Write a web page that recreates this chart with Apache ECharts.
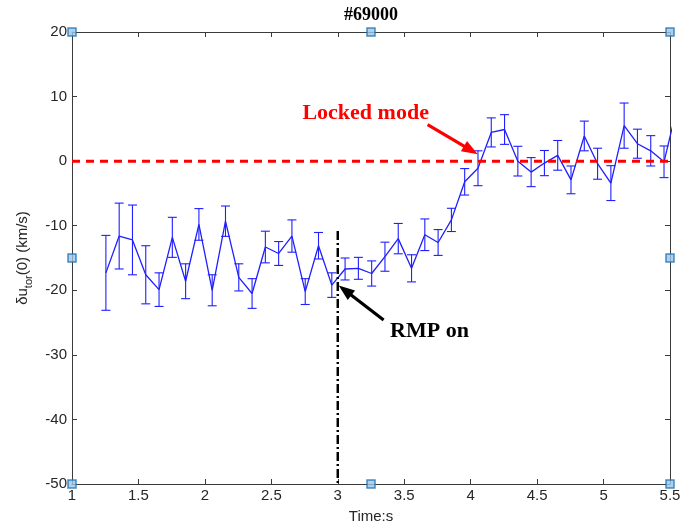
<!DOCTYPE html>
<html>
<head>
<meta charset="utf-8">
<script src="https://cdn.jsdelivr.net/npm/echarts@6/dist/echarts.min.js"></script>
<style>
html,body{margin:0;padding:0;background:#fff;}
#chart{width:691px;height:529px;}
</style>
</head>
<body>
<div id="chart"></div>
<script>
// ---- data ----
const times = [1.255,1.355,1.455,1.555,1.655,1.755,1.855,1.955,2.055,2.155,
               2.255,2.355,2.455,2.555,2.655,2.755,2.855,2.955,3.055,3.155,
               3.255,3.355,3.455,3.555,3.655,3.755,3.855,3.955,4.055,4.155,
               4.255,4.355,4.455,4.555,4.655,4.755,4.855,4.955,5.055,5.155,
               5.255,5.355,5.455,5.555];
const values = [-17.3,-11.6,-12.2,-17.6,-19.9,-11.8,-18.6,-9.8,-20.0,-9.3,
                -18.0,-20.5,-13.3,-14.3,-11.6,-20.2,-13.1,-19.2,-16.7,-16.6,
                -17.4,-14.8,-12.0,-16.6,-11.4,-12.6,-9.1,-3.2,-1.1,4.45,
                4.9,0.0,-1.7,-0.3,0.9,-2.9,3.9,-0.4,-3.4,5.5,
                2.7,1.6,-0.1,8.5];
const errors = [5.8,5.1,5.4,4.5,2.6,3.1,2.7,2.45,2.4,2.35,
                2.1,2.3,2.45,1.85,2.5,2.0,2.05,1.9,1.7,1.7,
                1.95,2.25,2.35,2.1,2.45,2.0,1.8,2.05,2.7,2.25,
                2.3,2.3,2.25,1.95,2.3,2.15,2.3,2.4,2.7,3.5,
                2.25,2.35,2.45,2.5];
const lockedLevel = [[1,0],[5.5,0]];
const rmpLine = [[3,-10.8],[3,-50]];
const handleX = [1,3.25,5.5,1,5.5,1,3.25,5.5];
const handleY = [20,20,20,-15,-15,-50,-50,-50];
const titleText = '#69000';
const xName = 'Time:s';
// annotations (data coordinates)
const lockedLabel = {text:'Locked mode', at:[3.21,7.35], from:[3.676,5.66], to:[4.053,1.05]};
const rmpLabel = {text:'RMP on', at:[3.69,-26.3], from:[3.345,-24.6], to:[3.007,-19.25]};

const mainData = times.map((t,i)=>[t,values[i]]);
const errData = times.map((t,i)=>[t,values[i],errors[i]]);
const handles = handleX.map((x,i)=>[x,handleY[i]]);

const axisColor = '#3a3a3a';
const labelColor = '#262626';
const sans = 'Liberation Sans, Arial, sans-serif';
const serif = 'Liberation Serif, Times New Roman, serif';

const chart = echarts.init(document.getElementById('chart'), null, {renderer:'canvas'});
const grid = {left:72, right:21, top:32, bottom:42};

function axisBase(pos){
  return {
    axisLine:{show:true, onZero:false, lineStyle:{color:axisColor, width:1}},
    axisTick:{show:true, inside:true, length:5, lineStyle:{color:axisColor}},
    splitLine:{show:false}, position:pos
  };
}

chart.setOption({
  animation:false,
  backgroundColor:'#fff',
  grid: grid,
  xAxis: [Object.assign(axisBase('bottom'), {
    type:'value', min:1, max:5.5, interval:0.5,
    axisLabel:{color:labelColor, fontFamily:sans, fontSize:15, margin:4,
      formatter:v=>String(Math.round(v*10)/10)},
    name:xName, nameLocation:'middle', nameGap:25,
    nameTextStyle:{color:labelColor, fontFamily:sans, fontSize:15}
  }), Object.assign(axisBase('top'), {
    type:'value', min:1, max:5.5, interval:0.5,
    axisLabel:{show:false}
  })],
  yAxis: [Object.assign(axisBase('left'), {
    type:'value', min:-50, max:20, interval:10,
    axisLabel:{color:labelColor, fontFamily:sans, fontSize:15, margin:5},
    name:'{a|δu}{s|tor}{a|(0) (km/s)}', nameLocation:'middle', nameGap:34, nameRotate:90,
    nameTextStyle:{color:labelColor, fontFamily:sans, fontSize:15,
      rich:{a:{fontSize:15, fontFamily:sans, color:labelColor, lineHeight:19, verticalAlign:'top'},
            s:{fontSize:11, fontFamily:sans, color:labelColor, lineHeight:19, verticalAlign:'bottom', padding:[5,0,0,0]}}}
  }), Object.assign(axisBase('right'), {
    type:'value', min:-50, max:20, interval:10,
    axisLabel:{show:false}
  })],
  series: [
    {
      type:'custom', name:'err', data:errData, clip:true, z:3,
      encode:{x:0, y:1},
      renderItem:function(params, api){
        const x = api.value(0), v = api.value(1), e = api.value(2);
        const top = api.coord([x, v+e]);
        const bot = api.coord([x, v-e]);
        const w = 4.5;
        const st = {stroke:'#1f1fff', lineWidth:1.1};
        return {type:'group', children:[
          {type:'line', shape:{x1:top[0],y1:top[1],x2:bot[0],y2:bot[1]}, style:st},
          {type:'line', shape:{x1:top[0]-w,y1:top[1],x2:top[0]+w,y2:top[1]}, style:st},
          {type:'line', shape:{x1:bot[0]-w,y1:bot[1],x2:bot[0]+w,y2:bot[1]}, style:st}
        ]};
      }
    },
    {
      type:'line', name:'main', data:mainData, showSymbol:false, symbol:'none', clip:true, z:3,
      lineStyle:{color:'#1f1fff', width:1.3}
    },
    {
      type:'line', name:'locked', data:lockedLevel, showSymbol:false, symbol:'none', z:5,
      lineStyle:{color:'#ff0000', width:3, type:[8,6]}
    },
    {
      type:'line', name:'rmp', data:rmpLine, showSymbol:false, symbol:'none', z:4,
      lineStyle:{color:'#000', width:2.5, type:[9,3,2,3]}
    },
    {
      type:'scatter', name:'handles', data:handles, symbol:'rect', symbolSize:8, clip:false, z:10,
      itemStyle:{color:'#9cc6e8', borderColor:'#1f6fb0', borderWidth:1.5}
    }
  ]
});

function arrow(from, to, color, width, headLen, headW){
  const p0 = chart.convertToPixel({gridIndex:0}, from);
  const p1 = chart.convertToPixel({gridIndex:0}, to);
  const dx = p1[0]-p0[0], dy = p1[1]-p0[1];
  const L = Math.sqrt(dx*dx+dy*dy);
  const ux = dx/L, uy = dy/L;
  const bx = p1[0]-ux*headLen, by = p1[1]-uy*headLen;
  const nx = -uy, ny = ux;
  return [
    {type:'line', z:20, shape:{x1:p0[0],y1:p0[1],x2:bx+ux*2,y2:by+uy*2}, style:{stroke:color, lineWidth:width}},
    {type:'polygon', z:20, shape:{points:[[p1[0],p1[1]],[bx+nx*headW/2,by+ny*headW/2],[bx-nx*headW/2,by-ny*headW/2]]}, style:{fill:color}}
  ];
}
function label(obj, color){
  const p = chart.convertToPixel({gridIndex:0}, obj.at);
  return {type:'text', z:20, x:p[0], y:p[1], style:{text:obj.text, fill:color, font:'bold 22px '+serif, align:'center', verticalAlign:'middle'}};
}
const gx = (72 + (691-21))/2;
chart.setOption({graphic:[
  {type:'text', z:20, x:gx, y:15, style:{text:titleText, fill:'#000', font:'bold 18px '+serif, align:'center', verticalAlign:'middle'}},
  label(lockedLabel, '#ff0000'),
  label(rmpLabel, '#000'),
  ...arrow(lockedLabel.from, lockedLabel.to, '#ff0000', 3.2, 16, 12),
  ...arrow(rmpLabel.from, rmpLabel.to, '#000', 3.2, 16, 12)
]});
</script>
</body>
</html>
